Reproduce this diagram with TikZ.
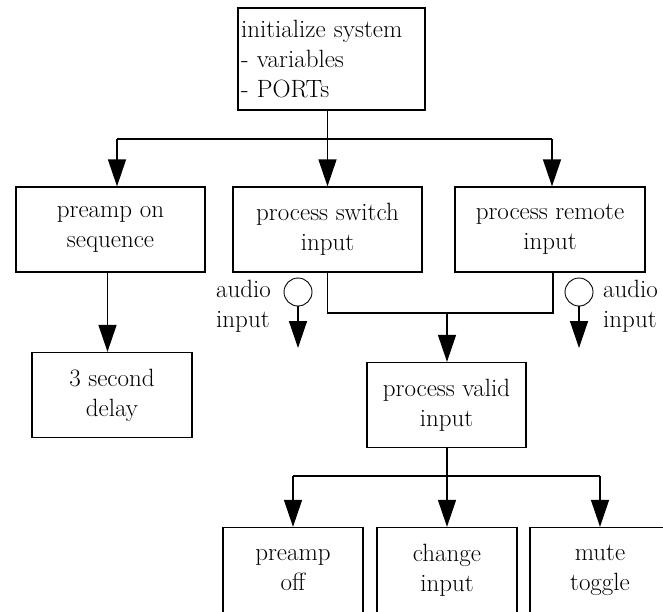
\documentclass[tikz,border=0pt]{standalone}
\usepackage{fontspec}
\usetikzlibrary{arrows.meta,calc}

\begin{document}
\begin{tikzpicture}[x=1pt,y=-1pt,
  font=\fontsize{25}{30}\selectfont,
  box/.style={draw,line width=1.3pt,minimum height=85pt,align=center,inner sep=2pt},
  arr/.style={line width=1.4pt,-{Triangle[width=18pt,length=27pt]}},
  wire/.style={line width=1.4pt}]

\useasboundingbox (0,0) rectangle (663,611);

\node[box,minimum width=187pt,minimum height=102pt,text width=181pt,align=left] (init) at (331.5,59)
  {initialize system\\- variables\\- PORTs};

\node[box,minimum width=189pt] (preamp) at (110.5,229.5) {preamp on\\sequence};
\node[box,minimum width=189pt] (switch) at (327.5,229.5) {process switch\\input};
\node[box,minimum width=190pt] (remote) at (550,229.5) {process remote\\input};
\node[box,minimum width=160pt] (delay) at (112,395) {3 second\\delay};
\node[box,minimum width=159pt] (valid) at (446.5,405) {process valid\\input};

\node[box,minimum width=140pt] (poff) at (293,570) {preamp\\off};
\node[box,minimum width=140pt] (chg) at (447,570) {change\\input};
\node[box,minimum width=140pt] (mute) at (600,570) {mute\\toggle};

% audio inputs
\node[draw,circle,line width=0.9pt,minimum size=28pt,inner sep=0pt] (audL) at (298,292) {};
\node[draw,circle,line width=0.9pt,minimum size=28pt,inner sep=0pt] (audR) at (579,292) {};
\node[anchor=west,align=left,inner sep=0pt] (audLtxt) at (216,306) {audio\\input};
\node[anchor=west,align=left,inner sep=0pt] (audRtxt) at (603,306) {audio\\input};
\coordinate (audLend) at (298,348);
\coordinate (audRend) at (579,348);
\draw[arr] (audL.south) -- (audLend);
\draw[arr] (audR.south) -- (audRend);

% top bus
\coordinate (busL) at (117,139);
\coordinate (busR) at (552,139);
\draw[wire] (init.south -| switch.north) -- (busL -| switch.north);
\draw[wire] (busL) -- (busR);
\draw[arr] (busL) -- (busL |- preamp.north);
\draw[arr] (busL -| switch.north) -- (switch.north);
\draw[arr] (busR) -- (busR |- remote.north);

\draw[arr] ([xshift=-3pt]preamp.south) -- ([xshift=-3pt]preamp.south |- delay.north);

% merge into valid input
\coordinate (join) at (447,313);
\draw[wire] (switch.south) |- (join) -| ([xshift=3pt]remote.south);
\draw[arr] (join) -- (join |- valid.north);

% split to outputs
\coordinate (split) at (447,476);
\draw[wire] (valid.south -| split) -- (split);
\draw[wire] (poff.north |- split) -- (mute.north |- split);
\draw[arr] (poff.north |- split) -- (poff.north);
\draw[arr] (split) -- (chg.north);
\draw[arr] (mute.north |- split) -- (mute.north);
\end{tikzpicture}
\end{document}
